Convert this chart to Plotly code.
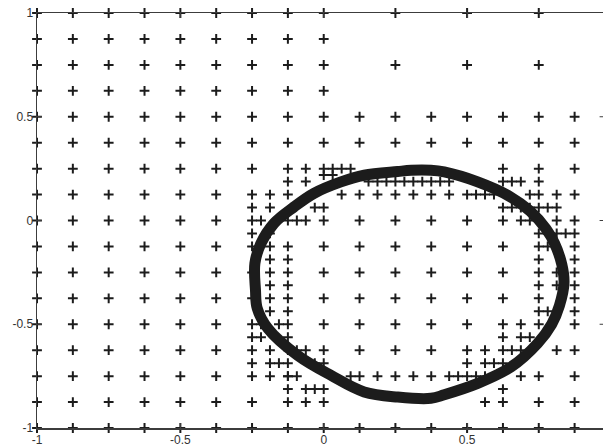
import plotly.graph_objects as go

# ---------------- data ----------------
row_y = [1, 0.875, 0.75, 0.625, 0.5, 0.375, 0.25, 0.125, 0,
         -0.125, -0.25, -0.375, -0.5, -0.625, -0.75, -0.875, -1]
left_x = [-1, -0.875, -0.75, -0.625, -0.5, -0.375, -0.25, -0.125]
full_right = [0, 0.125, 0.25, 0.375, 0.5, 0.625, 0.75, 0.875, 1]
right_x_by_row = [
    [0, 0.25, 0.5, 0.75, 1],          # 1
    [0],                              # 0.875
    [0, 0.25, 0.5, 0.75, 1],          # 0.75
    [0],                              # 0.625
    full_right,                       # 0.5
    full_right,                       # 0.375
    [0, 0.625, 0.75, 0.875, 1],       # 0.25
    [0.125, 0.25, 0.375, 0.5, 0.75, 0.875, 1],   # 0.125
    [0, 0.125, 0.25, 0.375, 0.5, 0.625, 0.875, 1],  # 0
    full_right, full_right, full_right, full_right,  # -0.125 .. -0.5
    [0, 0.125, 0.25, 0.375, 0.5, 0.625, 0.875, 1],  # -0.625
    [0.125, 0.25, 0.375, 0.75, 0.875, 1],           # -0.75
    [0, 0.625, 0.75, 0.875, 1],                     # -0.875
    full_right,                                     # -1
]

fine_x = [-0.0625, 0.03125, 0.0625, 0.09375,
          0, 0.03125,
          -0.125, -0.0625, 0.15625, 0.1875, 0.21875, 0.25, 0.28125, 0.3125, 0.34375, 0.375,
          0.40625, 0.4375, 0.625, 0.65625, 0.6875, 0.75,
          -0.1875, 0.0625, 0.1875, 0.3125, 0.4375, 0.53125, 0.5625, 0.59375, 0.71875, 0.8125,
          -0.25, -0.1875, -0.03125, 0, 0.625, 0.65625, 0.6875, 0.71875, 0.75, 0.78125, 0.8125,
          -0.21875, -0.09375, -0.0625, 0.6875, 0.71875, 0.8125,
          -0.25, -0.1875, 0.75, 0.78125, 0.8125, 0.84375, 0.875,
          -0.1875, 0.78125,
          -0.1875, -0.125, 0.75, 0.875,
          -0.1875, 0.8125,
          -0.1875, -0.125, 0.75, 0.8125, 0.875,
          -0.1875,
          -0.1875, -0.125, 0.75, 0.78125, 0.875,
          -0.21875, -0.15625, 0.6875,
          -0.25, -0.21875, -0.125, 0.625, 0.6875, 0.71875,
          -0.1875, -0.09375, -0.0625, 0.5625, 0.65625, 0.6875, 0.8125,
          -0.25, -0.1875, -0.15625, -0.125, -0.03125, 0, 0.5, 0.5625, 0.59375, 0.625,
          -0.1875, -0.125, -0.09375, 0.09375, 0.1875, 0.3125, 0.4375, 0.46875, 0.5, 0.53125, 0.5625, 0.6875,
          -0.125, -0.0625, -0.03125, 0, 0.625,
          -0.0625, 0.5625]
fine_y = [0.25, 0.25, 0.25, 0.25,
          0.21875, 0.21875,
          0.1875, 0.1875, 0.1875, 0.1875, 0.1875, 0.1875, 0.1875, 0.1875, 0.1875, 0.1875,
          0.1875, 0.1875, 0.1875, 0.1875, 0.1875, 0.1875,
          0.125, 0.125, 0.125, 0.125, 0.125, 0.125, 0.125, 0.125, 0.125, 0.125,
          0.0625, 0.0625, 0.0625, 0.0625, 0.0625, 0.0625, 0.0625, 0.0625, 0.0625, 0.0625, 0.0625,
          0, 0, 0, 0, 0, 0,
          -0.0625, -0.0625, -0.0625, -0.0625, -0.0625, -0.0625, -0.0625,
          -0.125, -0.125,
          -0.1875, -0.1875, -0.1875, -0.1875,
          -0.25, -0.25,
          -0.3125, -0.3125, -0.3125, -0.3125, -0.3125,
          -0.375,
          -0.4375, -0.4375, -0.4375, -0.4375, -0.4375,
          -0.5, -0.5, -0.5,
          -0.5625, -0.5625, -0.5625, -0.5625, -0.5625, -0.5625,
          -0.625, -0.625, -0.625, -0.625, -0.625, -0.625, -0.625,
          -0.6875, -0.6875, -0.6875, -0.6875, -0.6875, -0.6875, -0.6875, -0.6875, -0.6875, -0.6875,
          -0.75, -0.75, -0.75, -0.75, -0.75, -0.75, -0.75, -0.75, -0.75, -0.75, -0.75, -0.75,
          -0.8125, -0.8125, -0.8125, -0.8125, -0.8125,
          -0.875, -0.875]

ring_x = [0.305, 0.258, 0.141, 0.060, -0.034, -0.104, -0.173, -0.219, -0.240,
          -0.238, -0.232, -0.195, -0.091, 0.025, 0.141, 0.258, 0.374, 0.420,
          0.537, 0.653, 0.746, 0.795, 0.822, 0.838, 0.830, 0.805, 0.775, 0.720,
          0.650, 0.537, 0.420, 0.374, 0.305]
ring_y = [0.242, 0.236, 0.218, 0.186, 0.131, 0.065, -0.013, -0.110, -0.206,
          -0.336, -0.423, -0.520, -0.650, -0.746, -0.826, -0.851, -0.857, -0.840,
          -0.785, -0.706, -0.592, -0.500, -0.410, -0.300, -0.210, -0.110, -0.040, 0.045,
          0.115, 0.186, 0.234, 0.242, 0.242]

x_tickvals = [-1, -0.5, 0, 0.5]
x_ticktext = ["-1", "-0.5", "0", "0.5"]
y_tickvals = [1, 0.5, 0, -0.5, -1]
y_ticktext = ["1", "0.5", "0", "-0.5", "-1"]

# ---------------- build ----------------
grid_x, grid_y = [], []
for yv, rx in zip(row_y, right_x_by_row):
    for xv in left_x + rx:
        grid_x.append(xv)
        grid_y.append(yv)

ink = "#1c1c1c"
plus = dict(symbol="cross-thin", size=7, color=ink, line=dict(width=2, color=ink))

fig = go.Figure()
fig.add_trace(go.Scatter(x=grid_x, y=grid_y, mode="markers", marker=plus,
                         cliponaxis=False, hoverinfo="skip"))
fig.add_trace(go.Scatter(x=fine_x, y=fine_y, mode="markers", marker=plus,
                         cliponaxis=False, hoverinfo="skip"))
fig.add_trace(go.Scatter(x=ring_x, y=ring_y, mode="lines",
                         line=dict(color=ink, width=11, shape="spline"),
                         hoverinfo="skip"))

axis_col = "#3c3c3c"
font = dict(family="Liberation Sans, Arial, sans-serif", size=12, color="#333")
fig.update_xaxes(range=[-1, 0.974], tickvals=x_tickvals, ticktext=x_ticktext,
                 showline=True, linecolor=axis_col, linewidth=1.5, mirror="ticks",
                 ticks="inside", ticklen=5, tickwidth=1, tickcolor=axis_col,
                 showgrid=False, zeroline=False, tickfont=font)
fig.update_yaxes(range=[-1, 1], tickvals=y_tickvals, ticktext=y_ticktext,
                 showline=True, linecolor=axis_col, linewidth=1.5,
                 ticks="inside", ticklen=5, tickwidth=1, tickcolor=axis_col,
                 showgrid=False, zeroline=False, tickfont=font)
for yv in [0.5, 0, -0.5]:
    fig.add_shape(type="line", xref="paper", yref="y", x0=0.994, x1=1.0, y0=yv, y1=yv,
                  line=dict(color=axis_col, width=1))

fig.update_layout(width=603, height=447, showlegend=False,
                  margin=dict(l=37, r=0, t=13, b=19, autoexpand=False),
                  paper_bgcolor="white", plot_bgcolor="white")
fig.write_html("out.html", config={"displayModeBar": False, "staticPlot": True},
               post_script="document.body.style.margin='0px';document.body.style.overflow='hidden';")
